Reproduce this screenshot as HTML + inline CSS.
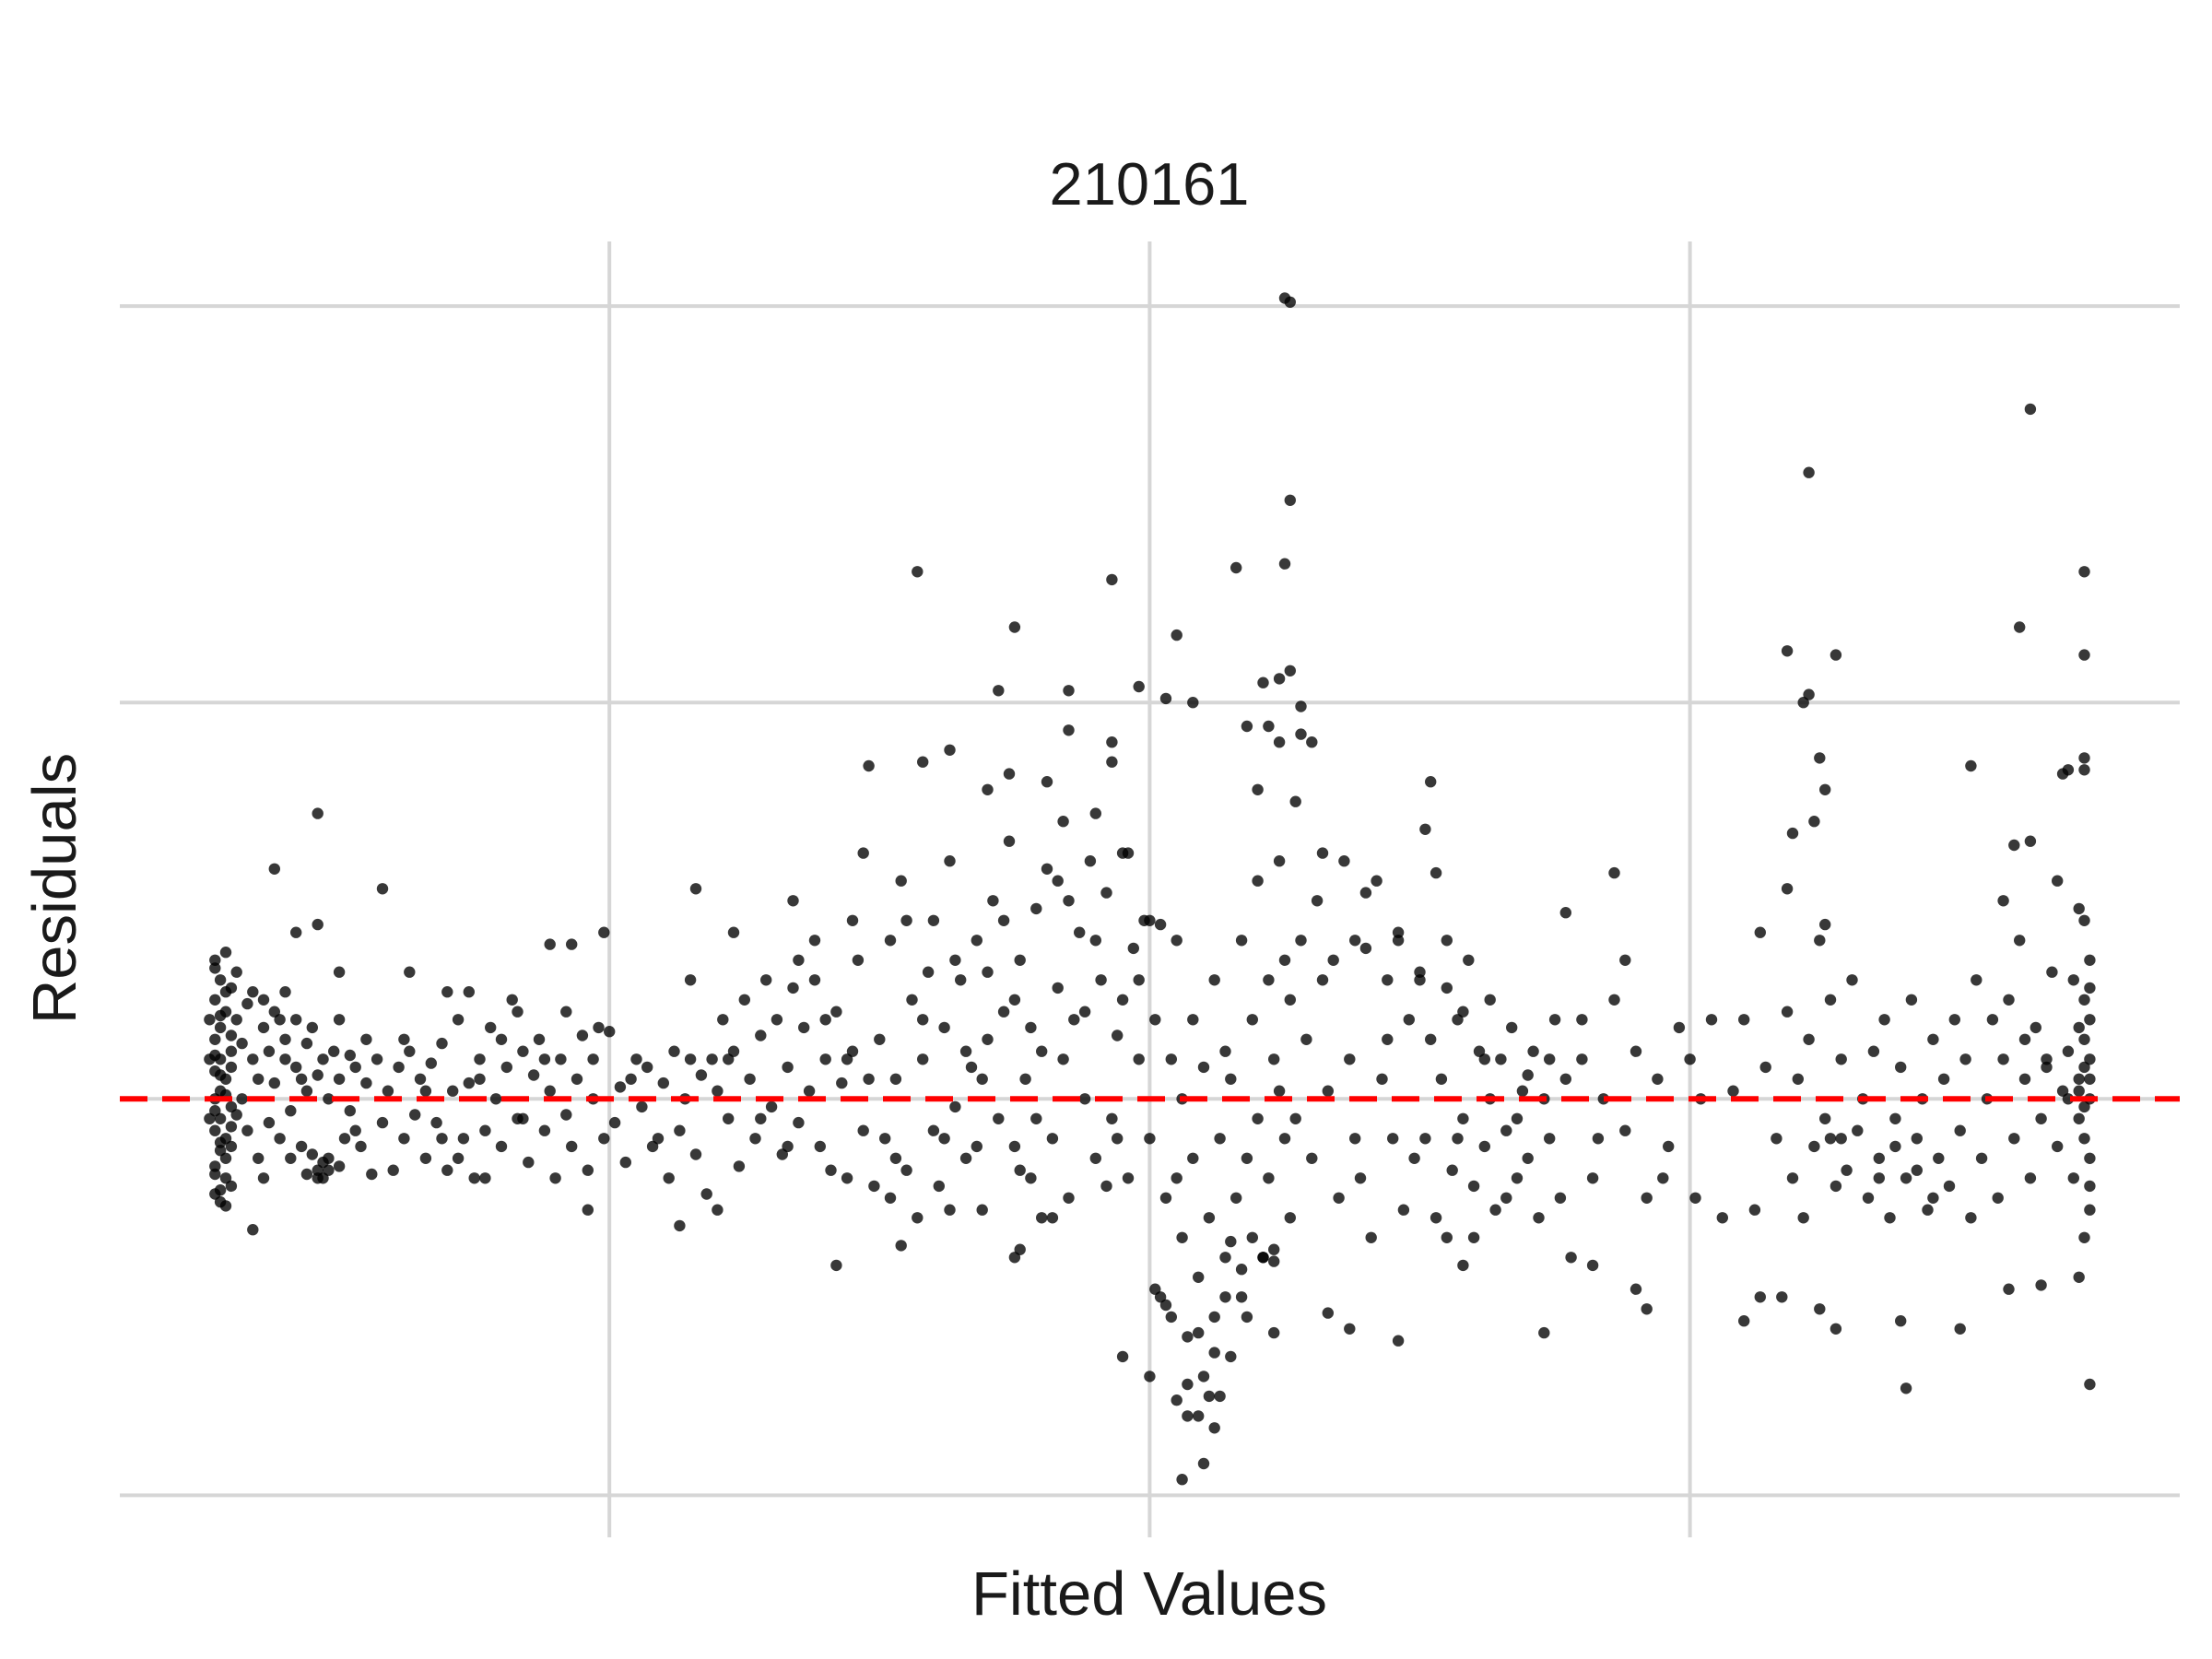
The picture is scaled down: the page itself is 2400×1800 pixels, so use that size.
<!DOCTYPE html>
<html><head><meta charset="utf-8"><style>
html,body{margin:0;padding:0;background:#fff;}
svg{display:block;}
text{font-family:"Liberation Sans",sans-serif;fill:#1a1a1a;}
</style></head><body>
<svg id="chart" width="2400" height="1800" viewBox="0 0 2400 1800" xmlns="http://www.w3.org/2000/svg">
<rect width="2400" height="1800" fill="#fff"/>
<g id="grid"></g>
<g id="points"></g>
<line id="zero" x1="130" x2="2365" stroke="#ff0000" stroke-width="6" stroke-dasharray="30,16"/>
<text x="1247" y="222" font-size="65" text-anchor="middle">210161</text>
<text x="1247" y="1752" font-size="67" text-anchor="middle">Fitted Values</text>
<text x="0" y="0" font-size="67" text-anchor="middle" transform="translate(82,964) rotate(-90)">Residuals</text>
</svg>
<script>
const xGridValues=[1,2,3];
const yGridValues=[-1,0,1,2];
const fittedValues=[
0.27,0.28,0.27,0.29,0.28,0.27,0.3,0.28,0.27,0.29,0.28,0.27,0.3,0.28,0.27,0.29,0.28,0.27,0.29,0.27,0.28,0.3,0.31,0.3,0.31,0.3,0.31,0.26,0.26,0.26,0.29,0.3,0.32,0.32,0.33,0.33,0.34,0.34,0.35,0.35,
0.36,0.37,0.38,0.38,0.39,0.4,0.4,0.41,0.42,0.42,0.43,0.44,0.44,0.45,0.45,0.46,0.46,0.47,0.47,0.48,0.48,0.49,0.5,0.5,0.51,0.52,0.52,0.53,0.54,0.55,0.56,0.57,0.58,0.59,0.6,
0.46,0.38,0.42,0.46,0.5,0.34,0.4,0.36,0.44,0.46,
0.61,0.62,0.63,0.64,0.65,0.66,0.67,0.68,0.69,0.7,0.71,0.72,0.73,0.74,0.75,0.76,0.77,0.78,0.79,0.8,0.81,0.82,0.83,0.84,0.85,0.86,0.87,0.88,0.89,0.9,0.91,0.92,0.93,0.94,0.95,0.96,0.97,0.98,0.99,
0.58,0.63,0.89,0.93,0.99,0.96,0.7,0.74,0.83,0.77,
1.0,1.01,1.02,1.03,1.05,1.06,1.07,1.08,1.1,1.11,1.12,1.13,1.14,1.15,1.16,1.17,1.18,1.19,1.2,1.21,1.22,1.23,1.24,1.25,1.26,1.27,1.28,1.29,1.3,1.31,1.32,1.33,1.34,1.35,1.36,1.37,1.38,1.39,1.4,1.41,1.42,1.43,1.44,1.45,1.46,1.47,1.48,1.49,
1.16,1.13,1.23,1.34,1.42,1.57,1.48,1.47,1.35,1.2,1.45,1.38,
1.5,1.51,1.52,1.52,1.53,1.54,1.55,1.56,1.57,1.58,1.59,1.6,1.6,1.61,1.62,1.63,1.64,1.65,1.66,1.67,1.68,1.69,1.7,1.71,1.72,1.73,1.74,1.75,1.76,1.77,1.78,1.79,1.8,1.81,1.82,1.83,1.84,1.85,1.86,1.87,1.88,1.89,1.9,1.91,1.92,1.93,1.94,1.95,1.96,1.97,1.98,1.99,
1.55,1.62,1.66,1.7,1.73,1.78,1.8,1.85,1.88,1.92,1.95,1.68,1.76,1.83,1.9,
1.75,1.72,1.93,1.85,1.63,1.58,1.74,1.85,1.93,1.93,1.75,1.76,1.82,1.95,1.54,1.63,1.7,1.81,1.96,
2.0,2.0,2.01,2.02,2.02,2.03,2.04,2.04,2.05,2.06,2.06,2.07,2.08,2.08,2.09,2.1,2.1,2.11,2.12,2.12,2.13,2.14,2.14,2.15,2.15,2.16,2.17,2.17,2.18,2.19,2.19,2.2,2.2,2.21,2.22,2.22,2.23,2.23,2.24,2.24,2.25,2.25,2.26,2.27,2.27,2.28,2.29,2.3,2.3,2.31,2.32,2.33,2.34,2.35,2.36,2.37,2.38,2.39,2.4,2.41,2.42,2.43,2.44,2.45,2.46,2.47,2.48,2.49,
2.26,2.25,2.26,2.25,2.16,2.05,1.98,2.03,2.08,2.21,2.24,2.26,2.28,2.18,2.22,2.24,2.28,2.2,2.06,2.12,2.07,2.05,2.0,2.01,2.03,2.09,2.12,2.15,2.17,2.21,2.23,2.23,2.33,2.37,2.46,2.07,2.11,2.14,2.1,
2.5,2.51,2.52,2.53,2.54,2.55,2.56,2.57,2.58,2.59,2.6,2.61,2.62,2.63,2.64,2.65,2.66,2.67,2.68,2.69,2.7,2.71,2.72,2.73,2.74,2.75,2.76,2.77,2.78,2.8,2.82,2.84,2.86,2.88,2.9,2.92,2.94,2.96,2.98,
2.55,2.58,2.62,2.66,2.7,2.6,
2.52,2.51,2.53,2.86,2.88,2.77,2.73,2.92,2.9,2.82,2.58,2.46,2.5,2.4,2.55,2.8,
3.0,3.01,3.02,3.04,3.06,3.08,3.1,3.12,3.14,3.16,3.18,3.19,3.2,3.21,3.22,3.23,3.24,3.25,3.26,3.27,3.28,3.29,3.3,3.31,3.32,3.33,3.34,3.35,3.36,3.37,3.38,3.39,3.4,3.41,3.42,3.43,3.44,3.45,3.46,3.47,3.48,3.49,3.5,3.51,3.52,3.53,3.54,3.55,3.56,3.57,3.58,3.59,3.6,3.61,3.62,3.63,3.64,3.65,3.66,3.67,3.68,3.69,3.7,3.71,3.72,3.73,3.73,3.74,3.74,3.74,3.74,3.73,3.72,3.74,3.73,3.74,3.72,3.71,
3.22,3.63,3.73,3.61,3.73,3.18,3.27,3.22,3.21,3.24,3.25,3.23,3.19,3.52,3.73,3.73,3.7,3.69,3.6,3.63,3.4,3.74,3.5,3.39,3.27,3.24,3.17,3.1,3.13,3.59,3.65,3.72,3.18,3.13,3.25,3.58,3.68,3.72,
0.27,0.29,0.28,0.3,0.27,0.28,0.29,0.27,0.3,0.28,0.29,0.27,0.28,0.29,
0.36,0.37,0.39,0.41,0.43,0.47,0.48,0.5,0.53,0.55,
0.62,0.66,0.69,0.72,0.76,0.8,0.84,0.88,0.92,0.97,
1.04,1.09,1.15,1.22,1.28,1.33,1.4,1.44,
1.53,1.58,1.64,1.69,1.75,1.79,1.84,1.9,1.94,1.98,
2.05,2.09,2.13,2.18,2.26,2.32,2.38,2.44,
2.57,2.63,2.68,2.74,2.83,2.95,
3.26,3.28,3.35,3.38,3.42,3.45,3.62,3.66,3.7,3.72,3.73,3.74,3.73,3.74,3.74,3.73
];
const residuals=[
0.35,0.3,0.25,0.22,0.18,0.15,0.12,0.1,0.07,0.05,0.02,0.0,-0.02,-0.05,-0.08,-0.1,-0.13,-0.17,-0.2,-0.24,-0.26,0.28,0.2,0.08,-0.04,-0.12,0.32,0.1,-0.05,0.2,0.37,-0.22,0.14,0.0,0.24,-0.08,0.1,0.27,-0.15,0.05,
0.18,-0.06,0.22,0.04,-0.1,0.15,0.1,-0.03,0.2,0.08,-0.12,0.14,0.02,0.18,-0.14,0.06,-0.18,-0.2,0.1,-0.15,0.0,0.12,-0.17,0.05,-0.1,0.11,-0.03,0.08,-0.12,0.04,-0.19,0.1,-0.06,0.02,-0.18,
0.72,0.58,0.42,0.44,0.32,-0.33,0.27,0.25,-0.19,-0.2,
0.08,-0.1,0.12,-0.04,0.05,-0.15,0.09,-0.06,0.14,-0.18,0.02,0.2,-0.1,0.04,-0.2,0.1,-0.08,0.18,0.0,-0.12,0.08,0.25,-0.05,0.12,-0.16,0.06,0.15,-0.08,0.02,-0.2,0.1,0.22,-0.12,0.05,0.16,-0.18,0.0,0.18,-0.1,
0.53,0.32,0.39,0.39,0.42,-0.28,0.27,0.27,0.22,-0.2,
0.17,-0.06,0.03,-0.16,0.1,-0.02,0.08,-0.12,0.04,-0.2,0.12,-0.08,0.0,0.3,-0.14,0.06,-0.24,0.1,0.02,0.2,-0.05,0.12,-0.17,0.25,0.05,-0.1,0.16,0.3,-0.02,0.2,-0.14,0.08,0.28,-0.06,0.18,0.02,0.3,-0.12,0.1,-0.18,0.22,0.04,-0.2,0.12,0.35,-0.08,0.05,-0.22,
0.53,-0.32,0.42,0.5,-0.42,1.33,0.84,0.62,0.35,-0.28,0.45,0.4,
0.15,-0.1,0.4,-0.25,0.05,0.55,-0.18,0.25,-0.3,0.1,0.32,-0.08,0.45,-0.22,0.18,0.6,-0.02,0.3,-0.15,0.08,0.4,-0.28,0.15,0.5,-0.05,0.22,0.65,-0.12,0.35,0.05,-0.2,0.48,0.12,0.58,-0.1,0.28,0.7,-0.25,0.2,0.42,0.0,0.6,-0.15,0.3,0.52,-0.05,0.16,0.62,-0.2,0.38,0.1,0.45,
0.45,-0.1,0.12,0.32,0.45,0.18,-0.3,0.5,0.22,-0.22,0.25,-0.12,-0.18,0.55,0.72,
1.19,1.03,1.31,1.03,0.88,0.85,0.82,0.93,0.85,0.9,-0.4,-0.38,-0.3,-0.65,-0.37,-0.28,0.78,0.8,0.62,
0.45,-0.1,0.2,-0.5,0.44,-0.25,0.1,-0.55,0.4,-0.35,0.0,-0.6,0.2,-0.15,-0.45,0.08,-0.7,-0.3,0.3,-0.55,-0.1,-0.4,0.12,-0.65,0.05,-0.25,0.4,-0.5,-0.15,0.2,-0.35,0.55,-0.05,-0.4,0.3,-0.2,0.1,-0.38,0.6,0.02,0.35,-0.1,0.25,0.75,-0.05,0.4,0.15,0.9,-0.15,0.5,0.62,0.02,0.35,-0.25,0.6,0.1,0.4,-0.2,0.38,-0.35,0.55,0.05,0.3,-0.1,0.42,-0.28,0.2,-0.15,
2.01,2.02,1.51,1.35,1.34,1.17,1.04,1.01,1.0,1.05,1.06,1.08,0.99,0.94,0.94,0.9,0.92,0.78,-0.96,-0.83,-0.8,-0.76,-0.7,-0.48,-0.52,-0.59,-0.64,-0.36,-0.43,-0.4,-0.41,-0.59,-0.54,-0.58,-0.61,-0.72,-0.75,-0.5,-0.92,
0.3,-0.1,0.15,-0.3,0.05,0.28,-0.18,0.2,-0.05,0.35,-0.22,0.12,-0.12,0.0,-0.28,0.1,-0.08,0.18,-0.2,0.02,-0.15,0.12,-0.3,0.0,-0.1,0.2,-0.25,0.05,-0.4,0.1,-0.2,0.0,0.25,-0.08,0.12,-0.25,0.05,-0.12,0.18,
0.4,0.22,0.1,-0.25,0.06,-0.35,
0.8,0.68,0.57,0.57,0.35,0.47,-0.59,-0.53,-0.48,-0.42,-0.42,0.4,0.32,0.52,-0.35,0.2,
0.1,-0.25,0.0,0.2,-0.3,0.02,0.2,-0.28,0.08,-0.1,0.22,-0.2,0.05,-0.3,0.15,-0.12,0.4,-0.05,0.25,-0.22,0.1,-0.18,0.3,-0.08,0.0,-0.25,0.12,-0.15,0.2,-0.3,-0.05,0.08,-0.2,0.25,-0.1,0.0,-0.28,0.15,-0.15,0.05,-0.22,0.2,-0.08,0.1,-0.3,0.3,-0.15,0.0,0.2,-0.25,0.1,0.25,-0.1,0.4,0.05,-0.2,0.18,-0.05,0.08,0.32,-0.12,0.02,0.12,-0.2,0.05,0.25,-0.1,0.0,0.1,0.35,-0.22,0.45,0.18,-0.28,0.08,0.2,-0.05,0.3,
1.58,1.74,1.33,1.19,1.12,1.13,1.12,1.02,1.0,0.86,0.78,0.7,0.67,0.84,0.86,0.83,0.83,0.82,0.64,0.65,-0.73,-0.72,-0.58,-0.56,-0.58,-0.53,-0.5,-0.56,-0.5,-0.48,-0.47,-0.45,0.53,0.42,0.44,0.5,0.55,0.48,
0.33,0.27,0.21,0.16,0.11,0.06,0.01,-0.03,-0.07,-0.11,-0.15,-0.19,-0.23,-0.27,
-0.2,0.12,0.2,-0.15,0.05,-0.16,-0.18,0.2,-0.08,0.15,
0.15,0.02,-0.1,-0.15,0.05,0.15,-0.05,0.1,-0.04,0.1,
0.05,-0.1,0.1,0.1,-0.05,-0.12,0.2,0.1,
-0.15,0.2,0.35,0.05,0.25,-0.05,0.1,0.4,-0.1,0.3,
-0.2,-0.8,-0.75,-0.55,-0.3,0.3,-0.1,0.15,
-0.1,0.25,-0.05,0.1,-0.1,-0.2,
-0.1,-0.1,-0.2,-0.12,-0.18,-0.25,0.15,0.1,0.0,0.02,-0.02,0.05,0.15,-0.15,0.28,-0.35
];
const NS='http://www.w3.org/2000/svg';
function xScale(v){return 661.2+(v-1)*586.2;}
function yScale(v){return 1192.3-v*430.1;}
const grid=document.getElementById('grid');
yGridValues.forEach(function(v){
  const l=document.createElementNS(NS,'line');
  l.setAttribute('x1',130);l.setAttribute('x2',2365);
  l.setAttribute('y1',yScale(v));l.setAttribute('y2',yScale(v));
  l.setAttribute('stroke','#d6d6d6');l.setAttribute('stroke-width','4');
  
  
  grid.appendChild(l);
});
xGridValues.forEach(function(v){
  const l=document.createElementNS(NS,'line');
  l.setAttribute('x1',xScale(v));l.setAttribute('x2',xScale(v));
  l.setAttribute('y1',262);l.setAttribute('y2',1668);
  l.setAttribute('stroke','#d6d6d6');l.setAttribute('stroke-width','4');
  
  
  grid.appendChild(l);
});
const pts=document.getElementById('points');
const n=Math.min(fittedValues.length,residuals.length);
for(let i=0;i<n;i++){
  const c=document.createElementNS(NS,'circle');
  c.setAttribute('cx',xScale(fittedValues[i]).toFixed(1));
  c.setAttribute('cy',yScale(residuals[i]).toFixed(1));
  c.setAttribute('r','6.2');
  c.setAttribute('fill','#000');c.setAttribute('fill-opacity','0.78');
  
  
  pts.appendChild(c);
}
const z=document.getElementById('zero');
z.setAttribute('y1',yScale(0));z.setAttribute('y2',yScale(0));
</script>
</body></html>
